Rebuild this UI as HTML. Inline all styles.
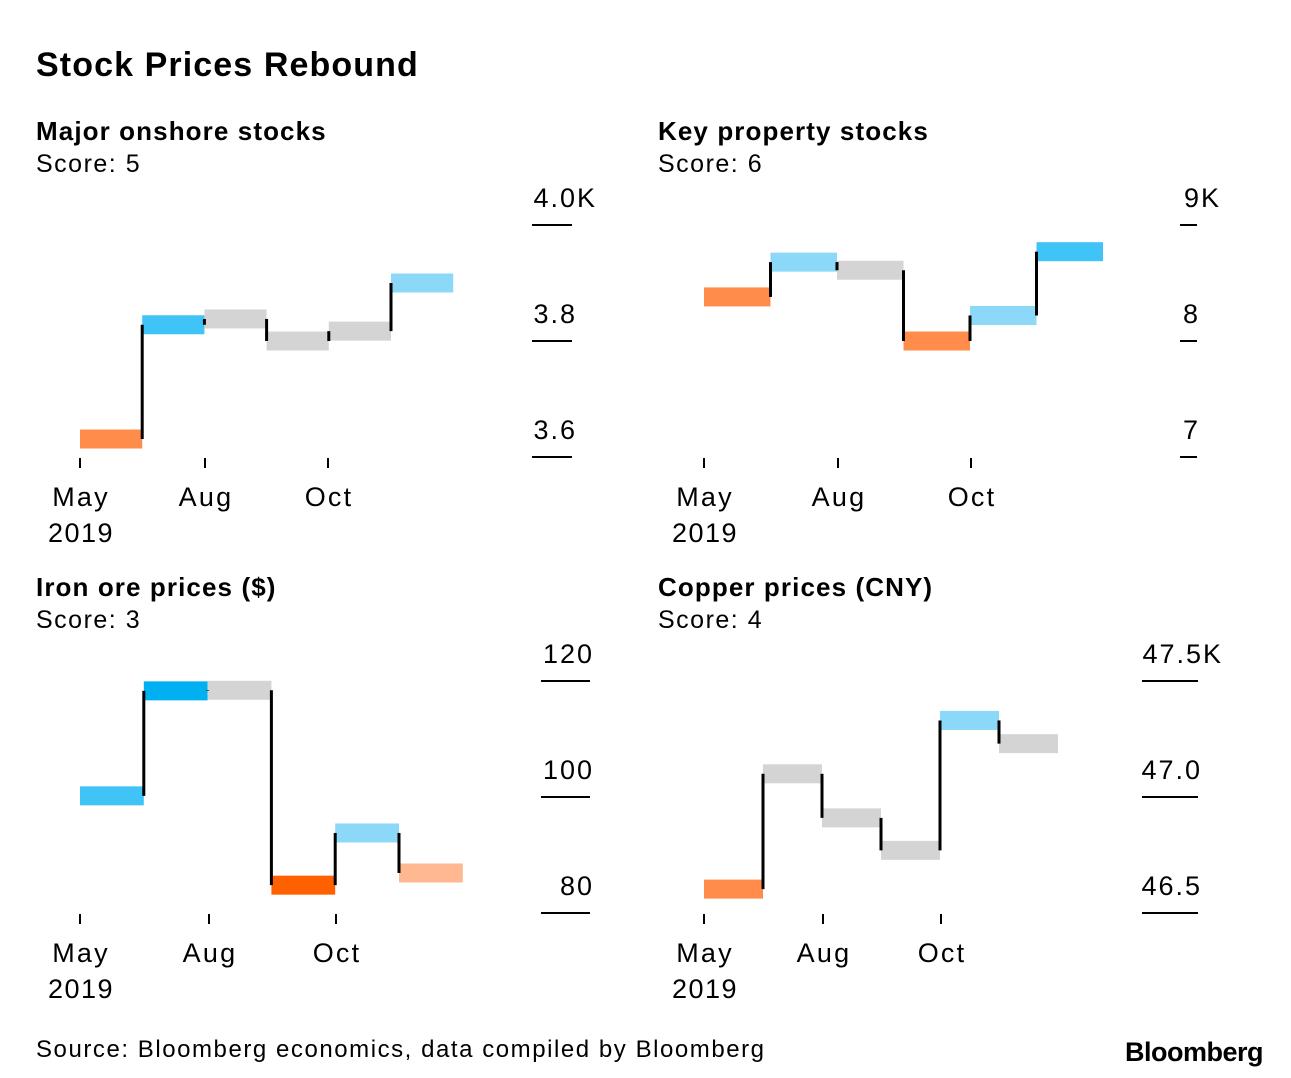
<!DOCTYPE html>
<html><head><meta charset="utf-8"><style>
body{margin:0;background:#fff;width:1291px;height:1078px;overflow:hidden;font-family:"Liberation Sans",sans-serif}
svg{position:absolute;left:0;top:0}
</style></head><body>
<svg id="s" width="1291" height="1078">
<text x="36" y="76" font-size="34" font-weight="bold" letter-spacing="1.1" fill="#000">Stock Prices Rebound</text>
<text x="36" y="1057" font-size="24" letter-spacing="1.55" fill="#000">Source: Bloomberg economics, data compiled by Bloomberg</text>
<text x="1263" y="1061" font-size="27" font-weight="bold" text-anchor="end" letter-spacing="-0.5" fill="#000">Bloomberg</text>
</svg>
<script>
const titles=["Major onshore stocks","Key property stocks","Iron ore prices ($)","Copper prices (CNY)"];
const scores=["Score: 5","Score: 6","Score: 3","Score: 4"];
const values1=[3631,3828,3838,3800,3817,3900];
const values2=[8.38,8.68,8.61,8.0,8.22,8.77];
const values3=[100.2,118.3,118.4,84.8,93.8,86.9];
const values4=[46603,47100,46910,46770,47330,47230];
const colors1=["#ff8c4a","#40c4f8","#d4d4d4","#d4d4d4","#d4d4d4","#8cd8f8"];
const colors2=["#ff8c4a","#8cd8f8","#d4d4d4","#ff8c4a","#8cd8f8","#40c4f8"];
const colors3=["#40c4f8","#00b0f0","#d4d4d4","#ff6000","#8cd8f8","#ffb890"];
const colors4=["#ff8c4a","#d4d4d4","#d4d4d4","#d4d4d4","#8cd8f8","#d4d4d4"];
const ticks1=[3600,3800,4000], tickLabels1=["3.6","3.8","4.0K"];
const ticks2=[7,8,9], tickLabels2=["7","8","9K"];
const ticks3=[80,100,120], tickLabels3=["80","100","120"];
const ticks4=[46500,47000,47500], tickLabels4=["46.5","47.0","47.5K"];
const months=["May","Aug","Oct"];
const panels=[
 {tx:36,ty:140,y0:457,y1:225,x0:80,bw:62.2,mx:[80,205,328],tl:[532,572],lx:[575,575,595],vals:values1,cols:colors1,ticks:ticks1,tls:tickLabels1},
 {tx:658,ty:140,y0:457,y1:225,x0:704,bw:66.5,mx:[704,838,971],tl:[1180,1197],lx:[1198,1198,1219],vals:values2,cols:colors2,ticks:ticks2,tls:tickLabels2},
 {tx:36,ty:596,y0:913,y1:681,x0:80,bw:63.8,mx:[80,209,336],tl:[541,590],lx:[592,592,592],vals:values3,cols:colors3,ticks:ticks3,tls:tickLabels3},
 {tx:658,ty:596,y0:913,y1:681,x0:704,bw:59,mx:[704,823,941],tl:[1142,1198],lx:[1200,1200,1221],vals:values4,cols:colors4,ticks:ticks4,tls:tickLabels4}
];
const svg=document.getElementById('s');const NS="http://www.w3.org/2000/svg";
function mk(t,a,txt){const e=document.createElementNS(NS,t);for(const k in a)e.setAttribute(k,a[k]);if(txt!=null)e.textContent=txt;svg.appendChild(e);return e;}
panels.forEach((p,i)=>{
 const lo=p.ticks[0],hi=p.ticks[2];
 const y=v=>p.y0+(v-lo)/(hi-lo)*(p.y1-p.y0);
 let e=mk('text',{x:p.tx,y:p.ty,'font-size':26,'font-weight':'bold','letter-spacing':1.1},titles[i]);
 
 
 e=mk('text',{x:p.tx,y:p.ty+32,'font-size':25,'letter-spacing':1.5},scores[i]);
 
 
 p.ticks.forEach((t,j)=>{
  const yy=y(t);
  e=mk('line',{x1:p.tl[0],x2:p.tl[1],y1:yy,y2:yy,stroke:'#000','stroke-width':2});
  
  
  e=mk('text',{x:p.lx[j]+2,y:yy-18,'font-size':27,'text-anchor':'end','letter-spacing':2},p.tls[j]);
  
  
 });
 p.mx.forEach((x,j)=>{
  e=mk('line',{x1:x,x2:x,y1:p.y0+1,y2:p.y0+11,stroke:'#000','stroke-width':2});
  
  
  e=mk('text',{x:x+1,y:p.y0+49,'font-size':27,'text-anchor':'middle','letter-spacing':2.2},months[j]);
  
  
 });
 e=mk('text',{x:p.mx[0]+1,y:p.y0+85,'font-size':27,'text-anchor':'middle','letter-spacing':1.5},"2019");
 
 
 p.vals.forEach((v,j)=>{
  e=mk('rect',{x:p.x0+j*p.bw,y:y(v)-9.5,width:p.bw,height:19,fill:p.cols[j]});
  
  
 });
 p.vals.forEach((v,j)=>{
  if(j===0)return;
  const x=p.x0+j*p.bw;
  e=mk('line',{x1:x,x2:x,y1:y(p.vals[j-1]),y2:y(v),stroke:'#000','stroke-width':3});
  
  
 });
});
</script>
</body></html>
